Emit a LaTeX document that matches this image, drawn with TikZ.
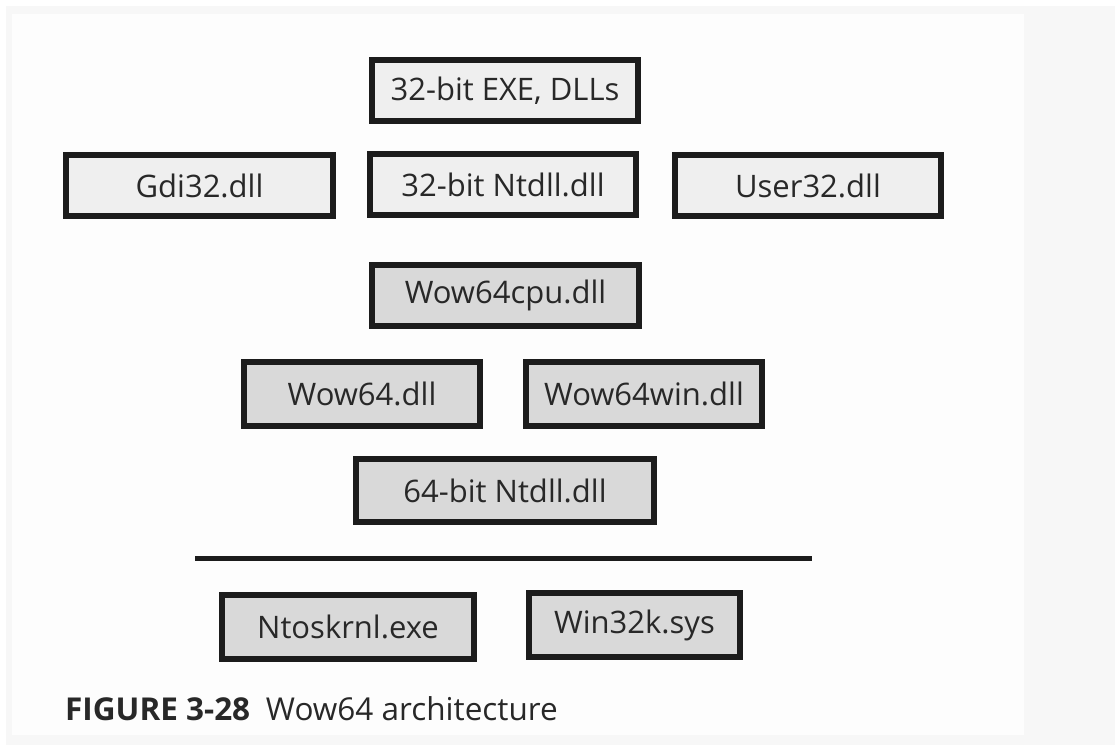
\documentclass[tikz,border=0pt]{standalone}
\usepackage{fontspec}
\setmainfont{Open Sans}
\definecolor{BoxEdge}{RGB}{28,28,28}
\definecolor{UserFill}{RGB}{239,239,239}
\definecolor{WowFill}{RGB}{217,217,217}
\definecolor{PageGrey}{RGB}{247,247,247}
\definecolor{PanelWhite}{RGB}{253,253,253}
\definecolor{InkGrey}{RGB}{40,40,40}
\tikzset{
  dllbox/.style={draw=BoxEdge, line width=6pt, inner sep=0pt,
        text=InkGrey, font=\fontsize{31}{36}\selectfont},
  userdll/.style={dllbox, fill=UserFill},
  wowdll/.style={dllbox, fill=WowFill}
}

\begin{document}
\begin{tikzpicture}[x=1pt, y=-1pt]
  % page and panel
  \fill[white] (0,0) rectangle (1115,749);
  \fill[PageGrey] (6,6) rectangle (1115,745);
  \fill[PanelWhite] (12,14) rectangle (1024,735);
  \useasboundingbox (0,0) rectangle (1115,749);

  % 32-bit user mode
  \node[userdll, minimum width=266pt, minimum height=61pt] (exe)
    at (505,90.5) {32-bit EXE, DLLs};
  \node[userdll, minimum width=267pt, minimum height=61pt] (gdi)
    at (199.5,185.5) {Gdi32.dll};
  \node[userdll, minimum width=266pt, minimum height=61pt] (ntdll32)
    at (503,184.5) {32-bit Ntdll.dll};
  \node[userdll, minimum width=266pt, minimum height=61pt] (user)
    at (808,185.5) {User32.dll};

  % Wow64 layer
  \node[wowdll, minimum width=267pt, minimum height=61pt] (cpu)
    at (505.5,295.5) {Wow64cpu.dll};
  \node[wowdll, minimum width=236pt, minimum height=64pt] (wow)
    at (362,394) {Wow64.dll};
  \node[wowdll, minimum width=236pt, minimum height=64pt] (wowwin)
    at (644,394) {Wow64win.dll};
  \node[wowdll, minimum width=298pt, minimum height=63pt] (ntdll64)
    at (505,490.5) {64-bit Ntdll.dll};

  % kernel boundary
  \coordinate (kleft) at (195,558);
  \coordinate (kright) at (812,558);
  \draw[BoxEdge, line width=5pt] (kleft) -- (kright);

  % kernel mode
  \node[wowdll, minimum width=252pt, minimum height=64pt] (ntos)
    at (348,627) {Ntoskrnl.exe};
  \node[wowdll, minimum width=211pt, minimum height=64pt] (win32k)
    at (634.5,625) {Win32k.sys};

  % caption
  \node[anchor=base west, inner sep=0pt, text=InkGrey,
        font=\fontsize{31.5}{36}\selectfont] (caption) at (65,720)
    {\textbf{FIGURE 3-28}\enspace Wow64 architecture};
\end{tikzpicture}
\end{document}
